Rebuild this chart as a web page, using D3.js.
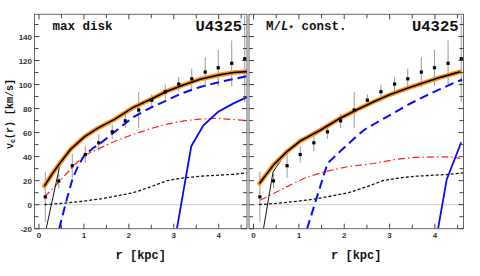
<!DOCTYPE html>
<html>
<head>
<meta charset="utf-8">
<script src="https://cdn.jsdelivr.net/npm/d3@7"></script>
<style>
  body { margin: 0; background: #fff; }
  svg { display: block; }
  .tick-lbl { font: bold 8px "Liberation Sans", Arial, sans-serif; fill: #333; }
  .mono { font-family: "Liberation Mono", "Courier New", monospace; font-weight: bold; fill: #111; }
</style>
</head>
<body>
<svg id="chart" width="480" height="276"></svg>
<script>
// rotation curve data of U4325 (same in both panels)
var rData = [0.14, 0.44, 0.74, 1.03, 1.33, 1.63, 1.92, 2.22, 2.51, 2.81, 3.11, 3.40, 3.70, 3.99, 4.29, 4.58];
var vData = [6.5, 19.8, 32.4, 41.8, 51.5, 60.7, 69.8, 78.8, 87, 94, 100.4, 104.8, 110.4, 114, 117.7, 121.5];
var vErr = [21, 6, 10, 7, 7, 6, 6, 15, 5, 6, 6, 8.5, 12.5, 15, 19, 36];

// model curves, [r, v]
var gasCurve = [[0.12, 0], [0.64, 1.5], [1.0, 3], [1.4, 5], [1.9, 8.5], [2.1, 10], [2.5, 15], [2.85, 20], [3.22, 22.3], [3.59, 23.7], [4.0, 24.6], [4.33, 25.3], [4.63, 26.5]];

var maxTotal = [[0.12, 15.5], [0.3, 26], [0.46, 34.3], [0.7, 46], [1.01, 56.5], [1.3, 63.5], [1.68, 71], [2.1, 81], [2.5, 88], [2.85, 94.5], [3.2, 99.5], [3.59, 104.5], [4.0, 108], [4.33, 110], [4.63, 110.8]];
var maxThin = [[0.16, -20], [0.46, 32], [0.7, 45.5], [1.01, 56.3]];
var maxDisk = [[0.45, -20], [0.6, 2], [0.75, 22], [0.88, 33], [1.01, 41], [1.2, 47], [1.38, 51.5], [1.68, 60.5], [2.1, 73], [2.5, 81], [2.85, 87], [3.2, 93], [3.59, 98], [4.0, 102], [4.33, 104.6], [4.63, 107]];
var maxHalo = [[3.07, -20], [3.39, 48.7], [3.66, 66], [3.99, 77.3], [4.33, 84.3], [4.63, 89.5]];
var maxRed = [[0.12, 6.5], [0.3, 13], [0.46, 19.5], [0.75, 31.5], [1.01, 41], [1.38, 47.5], [1.7, 53], [2.1, 58.5], [2.5, 63.5], [2.85, 67], [3.22, 69.8], [3.6, 71.3], [3.96, 71.8], [4.3, 71], [4.63, 70]];

var constTotal = [[0.13, 17.7], [0.44, 33], [0.73, 44], [1.03, 53], [1.47, 62], [1.91, 72], [2.3, 79.5], [2.65, 85.7], [3.0, 91.5], [3.38, 96.8], [3.75, 101.5], [4.12, 106], [4.56, 110.7]];
var constThin = [[0.22, -20], [0.43, 27.3], [0.73, 44], [1.03, 52.8]];
var constDisk = [[1.18, -20], [1.63, 34.3], [1.9, 44], [2.2, 54.5], [2.43, 62], [2.7, 68], [3.01, 74.6], [3.4, 83], [3.75, 89.8], [4.1, 96], [4.48, 102.3], [4.6, 104]];
var constHalo = [[4.07, -20], [4.26, 21], [4.58, 52]];
var constRed = [[0.15, 3.7], [0.44, 9.3], [0.73, 14.8], [1.18, 23], [1.63, 28], [2.1, 31.8], [2.65, 34.3], [3.1, 37.5], [3.53, 39.3], [4.0, 39.8], [4.34, 39.8], [4.56, 38.5]];

var xTicks = [0, 1, 2, 3, 4];
var yTicks = [-20, 0, 20, 40, 60, 80, 100, 120, 140];

var svg = d3.select("#chart");

var panels = [
  { x0: 34.5, x1: 247, total: maxTotal, thin: maxThin, disk: maxDisk, halo: maxHalo, red: maxRed, yLabels: true },
  { x0: 249, x1: 463.5, total: constTotal, thin: constThin, disk: constDisk, halo: constHalo, red: constRed, yLabels: false }
];

var plotTop = 14.3, plotBottom = 228.7;

panels.forEach(function (p, idx) {
  var x = d3.scaleLinear().domain([-0.1, 4.63]).range([p.x0, p.x1]);
  var y = d3.scaleLinear().domain([-20, 158.5]).range([plotBottom, plotTop]);
  var g = svg.append("g");
  var clipId = "clip" + idx;
  svg.append("clipPath").attr("id", clipId).append("rect")
    .attr("x", p.x0).attr("y", plotTop).attr("width", p.x1 - p.x0).attr("height", plotBottom - plotTop);

  // zero line
  g.append("line").attr("x1", p.x0).attr("x2", p.x1).attr("y1", y(0)).attr("y2", y(0))
    .attr("stroke", "#cfcfcf").attr("stroke-width", 1);

  var plot = g.append("g").attr("clip-path", "url(#" + clipId + ")");
  var line = d3.line().x(function (d) { return x(d[0]); }).y(function (d) { return y(d[1]); });

  // error bars
  plot.selectAll(".err").data(rData).enter().append("line")
    .attr("x1", function (d) { return x(d); }).attr("x2", function (d) { return x(d); })
    .attr("y1", function (d, i) { return y(vData[i] - vErr[i]); })
    .attr("y2", function (d, i) { return y(vData[i] + vErr[i]); })
    .attr("stroke", "#999").attr("stroke-width", 1);

  plot.append("path").attr("d", line(gasCurve)).attr("fill", "none")
    .attr("stroke", "#111").attr("stroke-width", 1.3).attr("stroke-dasharray", "3,2");
  plot.append("path").attr("d", line(p.red)).attr("fill", "none")
    .attr("stroke", "#ff2020").attr("stroke-width", 1.2).attr("stroke-dasharray", "7,3,1.5,3");
  plot.append("path").attr("d", line(p.halo)).attr("fill", "none")
    .attr("stroke", "#0a0aff").attr("stroke-width", 1.8);
  plot.append("path").attr("d", line(p.disk)).attr("fill", "none")
    .attr("stroke", "#0a0aff").attr("stroke-width", 2).attr("stroke-dasharray", "9,5");
  plot.append("path").attr("d", line(p.thin)).attr("fill", "none")
    .attr("stroke", "#111").attr("stroke-width", 1);
  plot.append("path").attr("d", line(p.total)).attr("fill", "none")
    .attr("stroke", "#ff9010").attr("stroke-width", 4.5).attr("stroke-linecap", "round");
  plot.append("path").attr("d", line(p.total)).attr("fill", "none")
    .attr("stroke", "#000").attr("stroke-width", 1.6);

  // points
  plot.selectAll(".pt").data(rData).enter().append("rect")
    .attr("x", function (d) { return x(d) - 1.6; })
    .attr("y", function (d, i) { return y(vData[i]) - 1.6; })
    .attr("width", 3.2).attr("height", 3.2).attr("fill", "#000");

  // frame
  g.append("rect").attr("x", p.x0).attr("y", plotTop).attr("width", p.x1 - p.x0).attr("height", plotBottom - plotTop)
    .attr("fill", "none").attr("stroke", "#666").attr("stroke-width", 1);

  // ticks
  d3.range(-20, 160, 10).forEach(function (v) {
    var len = v % 20 === 0 ? 5 : 4;
    g.append("line").attr("x1", p.x0).attr("x2", p.x0 + len).attr("y1", y(v)).attr("y2", y(v)).attr("stroke", "#444");
    g.append("line").attr("x1", p.x1).attr("x2", p.x1 - len).attr("y1", y(v)).attr("y2", y(v)).attr("stroke", "#444");
  });
  d3.range(0, 4.75, 0.5).forEach(function (r) {
    var len = r % 1 === 0 ? 5 : 4;
    g.append("line").attr("x1", x(r)).attr("x2", x(r)).attr("y1", plotBottom).attr("y2", plotBottom - len).attr("stroke", "#444");
    g.append("line").attr("x1", x(r)).attr("x2", x(r)).attr("y1", plotTop).attr("y2", plotTop + len).attr("stroke", "#444");
  });

  g.selectAll(".xl").data(xTicks).enter().append("text").attr("class", "tick-lbl")
    .attr("x", function (d) { return x(d); }).attr("y", plotBottom + 9.5)
    .attr("text-anchor", "middle").text(function (d) { return d; });

  if (p.yLabels) {
    g.selectAll(".yl").data(yTicks).enter().append("text").attr("class", "tick-lbl")
      .attr("x", p.x0 - 2.5).attr("y", function (d) { return y(d) + 3; })
      .attr("text-anchor", "end").text(function (d) { return d; });
  }

  // titles
  var t = g.append("text").attr("class", "mono").attr("x", p.x0 + 18).attr("y", 30).attr("font-size", 12.5);
  if (idx === 0) {
    t.text("max disk");
  } else {
    t.attr("x", p.x0 + 17);
    t.append("tspan").text("M/");
    t.append("tspan").attr("font-style", "italic").text("L");
    t.append("tspan").attr("font-size", 9).attr("dy", 2).text("*");
    t.append("tspan").attr("dy", -2).text(" const.");
  }
  g.append("text").attr("class", "mono").attr("x", p.x1 - 5).attr("y", 31)
    .attr("text-anchor", "end").attr("font-size", 15.5).text("U4325");

  g.append("text").attr("class", "mono").attr("x", (p.x0 + p.x1) / 2).attr("y", 259)
    .attr("text-anchor", "middle").attr("font-size", 12).text("r [kpc]");
});

// y axis label
var yl = svg.append("text").attr("class", "mono").attr("font-size", 10)
  .attr("transform", "translate(13,114) rotate(-90)").attr("text-anchor", "middle");
yl.append("tspan").text("v");
yl.append("tspan").attr("font-size", 7).attr("dy", 2).text("c");
yl.append("tspan").attr("dy", -2).text("(r) [km/s]");
</script>
</body>
</html>
